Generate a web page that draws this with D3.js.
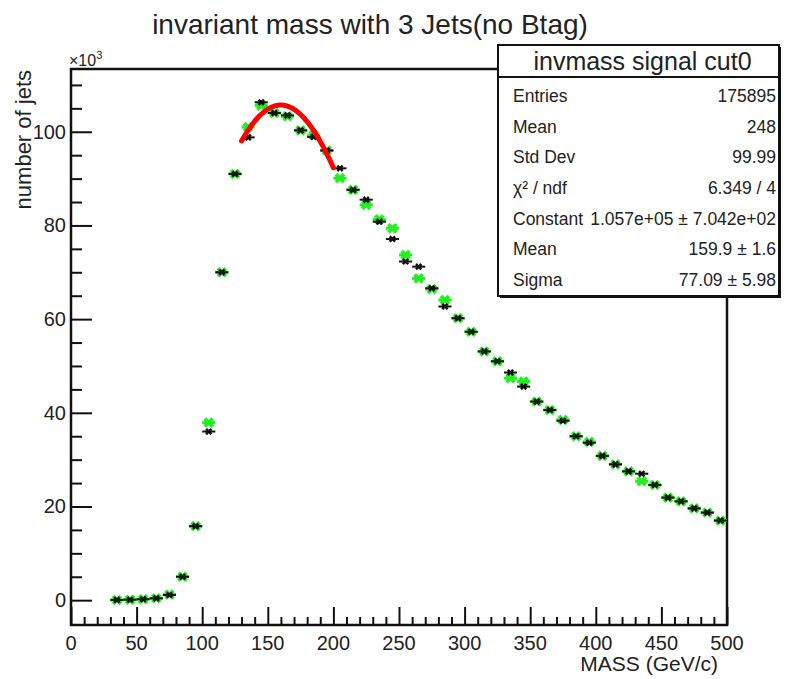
<!DOCTYPE html>
<html>
<head>
<meta charset="utf-8">
<script src="https://cdn.jsdelivr.net/npm/d3@7"></script>
<style>
  body { margin: 0; background: #fff; }
  text { font-family: "Liberation Sans", Arial, sans-serif; fill: #222; }
</style>
</head>
<body>
<div id="chart"></div>
<script>
// bin centres (GeV/c), 10 GeV wide bins
var binCenters = [35, 45, 55, 65, 75, 85, 95, 105, 115, 125, 135, 145, 155, 165, 175, 185, 195,
  205, 215, 225, 235, 245, 255, 265, 275, 285, 295, 305, 315, 325, 335, 345, 355, 365, 375,
  385, 395, 405, 415, 425, 435, 445, 455, 465, 475, 485, 495];

// counts in units of 10^3
var blackCounts = [0.05, 0.1, 0.2, 0.4, 1.1, 5.0, 15.8, 36.0, 70.0, 91.0, 98.8, 106.3, 104.0,
  103.5, 100.3, 98.9, 96.0, 92.2, 87.6, 85.5, 80.8, 77.1, 72.3, 71.2, 66.6, 62.7, 60.2, 57.3,
  53.1, 51.0, 48.6, 45.6, 42.4, 40.6, 38.3, 35.0, 33.6, 30.8, 29.0, 27.5, 27.0, 24.6, 21.9,
  21.1, 19.6, 18.7, 17.0];

var greenCounts = [0.05, 0.1, 0.2, 0.4, 1.2, 5.0, 15.8, 37.9, 70.0, 91.0, 101.0, 105.6, 104.0,
  103.3, 100.3, 99.3, 96.0, 90.1, 87.6, 84.4, 81.3, 79.4, 73.7, 68.7, 66.4, 64.1, 60.2, 57.3,
  53.1, 51.0, 47.4, 46.7, 42.4, 40.6, 38.5, 35.0, 33.8, 30.8, 29.0, 27.5, 25.4, 24.6, 21.9,
  21.1, 19.6, 18.7, 17.0];

// gaussian fit: constant (10^3), mean, sigma, and fit range
var fitParams = [105.7, 159.9, 77.09];
var fitRange = [130, 200];

var xTicks = [0, 50, 100, 150, 200, 250, 300, 350, 400, 450, 500];
var yTicks = [0, 20, 40, 60, 80, 100];

var statsLabels = ["Entries", "Mean", "Std Dev", "\u03C7\u00B2 / ndf", "Constant", "Mean", "Sigma"];
var statsValues = ["175895", "248", "99.99", "6.349 / 4", "1.057e+05 \u00B1 7.042e+02",
  "159.9 \u00B1 1.6", "77.09 \u00B1 5.98"];

var W = 790, H = 679;
var frame = { left: 71, right: 727, top: 69, bottom: 625 };

var svg = d3.select("#chart").append("svg")
  .attr("width", W)
  .attr("height", H);

var x = d3.scaleLinear().domain([0, 500]).range([frame.left, frame.right]);
var y = d3.scaleLinear().domain([-5.3, 113.4]).range([frame.bottom, frame.top]);

// Title
svg.append("text")
  .attr("x", 370)
  .attr("y", 34)
  .attr("text-anchor", "middle")
  .attr("font-size", "28px")
  .text("invariant mass with 3 Jets(no Btag)");

// Frame
svg.append("rect")
  .attr("x", frame.left)
  .attr("y", frame.top)
  .attr("width", frame.right - frame.left)
  .attr("height", frame.bottom - frame.top)
  .attr("fill", "none")
  .attr("stroke", "#111")
  .attr("stroke-width", 2.5);

// X axis (ticks inside)
var xAxis = d3.axisTop(x)
  .tickValues(d3.range(0, 501, 10))
  .tickSize(8)
  .tickFormat("");
svg.append("g")
  .attr("transform", "translate(0," + frame.bottom + ")")
  .call(xAxis)
  .call(function(g) {
    g.select(".domain").remove();
    g.selectAll(".tick line")
      .attr("stroke", "#111")
      .attr("stroke-width", 2)
      .attr("y2", function(d) { return d % 50 === 0 ? -18 : -8; });
  });

svg.append("g").selectAll("text")
  .data(xTicks)
  .enter().append("text")
  .attr("x", function(d) { return x(d); })
  .attr("y", 650)
  .attr("text-anchor", "middle")
  .attr("font-size", "20px")
  .text(function(d) { return d; });

// Y axis (ticks inside)
var yAxis = d3.axisRight(y)
  .tickValues(d3.range(0, 111, 5))
  .tickSize(10)
  .tickFormat("");
svg.append("g")
  .attr("transform", "translate(" + frame.left + ",0)")
  .call(yAxis)
  .call(function(g) {
    g.select(".domain").remove();
    g.selectAll(".tick line")
      .attr("stroke", "#111")
      .attr("stroke-width", 2)
      .attr("x2", function(d) { return d % 20 === 0 ? 21 : 11; });
  });

svg.append("g").selectAll("text")
  .data(yTicks)
  .enter().append("text")
  .attr("x", 66)
  .attr("y", function(d) { return y(d); })
  .attr("dy", "0.35em")
  .attr("text-anchor", "end")
  .attr("font-size", "20px")
  .text(function(d) { return d; });

// x10^3
var mult = svg.append("text")
  .attr("x", 69)
  .attr("y", 66)
  .attr("font-size", "16px");
mult.append("tspan").text("\u00D710");
mult.append("tspan").attr("dy", -7).attr("font-size", "11px").text("3");

// Axis titles
svg.append("text")
  .attr("transform", "translate(31,70) rotate(-90)")
  .attr("text-anchor", "end")
  .attr("font-size", "22px")
  .text("number of jets");

svg.append("text")
  .attr("x", 718)
  .attr("y", 671)
  .attr("text-anchor", "end")
  .attr("font-size", "21px")
  .text("MASS (GeV/c)");

// Data points
function drawSeries(counts, color, markerSize, barWidth) {
  var g = svg.append("g");
  var pts = binCenters.map(function(c, i) { return { c: c, v: counts[i] }; });
  g.selectAll("line.err")
    .data(pts)
    .enter().append("line")
    .attr("x1", function(d) { return x(d.c - 5); })
    .attr("x2", function(d) { return x(d.c + 5); })
    .attr("y1", function(d) { return y(d.v); })
    .attr("y2", function(d) { return y(d.v); })
    .attr("stroke", color)
    .attr("stroke-width", barWidth);
  g.selectAll("path")
    .data(pts)
    .enter().append("path")
    .attr("transform", function(d) { return "translate(" + x(d.c) + "," + y(d.v) + ") rotate(45)"; })
    .attr("d", d3.symbol().type(d3.symbolCross).size(markerSize))
    .attr("fill", color);
}

drawSeries(greenCounts, "#22ee22", 70, 3);
drawSeries(blackCounts, "#111", 32, 2);

// Fit curve
var fitPts = d3.range(fitRange[0], fitRange[1] + 0.1, 1).map(function(m) {
  var z = (m - fitParams[1]) / fitParams[2];
  return [m, fitParams[0] * Math.exp(-0.5 * z * z)];
});
svg.append("path")
  .datum(fitPts)
  .attr("d", d3.line().x(function(d) { return x(d[0]); }).y(function(d) { return y(d[1]); }))
  .attr("fill", "none")
  .attr("stroke", "#ff0000")
  .attr("stroke-width", 5)
  .attr("stroke-linecap", "round");

// Stats box
var box = { x: 498, y: 45, w: 281, h: 251 };
svg.append("rect")
  .attr("x", box.x + 2)
  .attr("y", box.y + 2)
  .attr("width", box.w)
  .attr("height", box.h)
  .attr("fill", "#111");
svg.append("rect")
  .attr("x", box.x)
  .attr("y", box.y)
  .attr("width", box.w)
  .attr("height", box.h)
  .attr("fill", "#fff")
  .attr("stroke", "#111")
  .attr("stroke-width", 2);
svg.append("line")
  .attr("x1", box.x)
  .attr("x2", box.x + box.w)
  .attr("y1", 77)
  .attr("y2", 77)
  .attr("stroke", "#111")
  .attr("stroke-width", 2);
svg.append("text")
  .attr("x", box.x + box.w / 2 + 4)
  .attr("y", 70)
  .attr("text-anchor", "middle")
  .attr("font-size", "25px")
  .text("invmass signal cut0");

var rowY = d3.scaleLinear().domain([0, 6]).range([96, 280]);
svg.append("g").selectAll("text")
  .data(statsLabels)
  .enter().append("text")
  .attr("x", 513)
  .attr("y", function(d, i) { return rowY(i); })
  .attr("dy", "0.35em")
  .attr("font-size", "17.5px")
  .text(function(d) { return d; });
svg.append("g").selectAll("text")
  .data(statsValues)
  .enter().append("text")
  .attr("x", 776)
  .attr("y", function(d, i) { return rowY(i); })
  .attr("dy", "0.35em")
  .attr("text-anchor", "end")
  .attr("font-size", "17.5px")
  .text(function(d) { return d; });
</script>
</body>
</html>
